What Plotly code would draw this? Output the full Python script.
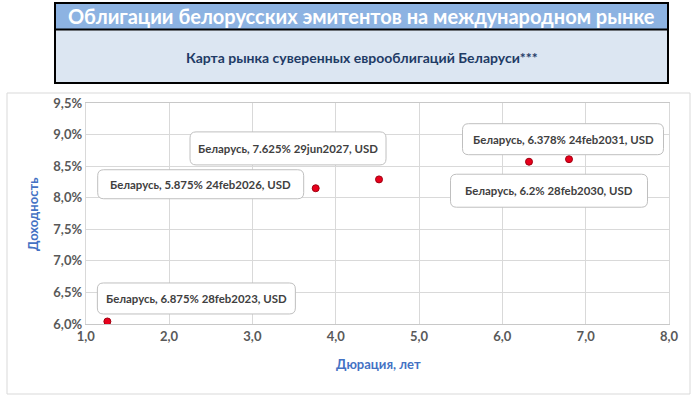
import plotly.graph_objects as go

# ---- data ----
duration = [1.26, 3.76, 4.52, 6.32, 6.80]
yield_pct = [0.0604, 0.0815, 0.0829, 0.0857, 0.0861]
bond_names = [
    "Беларусь, 6.875% 28feb2023, USD",
    "Беларусь, 5.875% 24feb2026, USD",
    "Беларусь, 7.625% 29jun2027, USD",
    "Беларусь, 6.2% 28feb2030, USD",
    "Беларусь, 6.378% 24feb2031, USD",
]
header_title = "Облигации белорусских эмитентов на международном рынке"
chart_title = "Карта рынка суверенных еврооблигаций Беларуси***"
x_title = "Дюрация, лет"
y_title = "Доходность"
x_ticks = [1, 2, 3, 4, 5, 6, 7, 8]
y_ticks = [0.060, 0.065, 0.070, 0.075, 0.080, 0.085, 0.090, 0.095]

# ---- styles / label placement (pixel offsets from point) ----
label_dx = [89, -115, -91, 20, -6]
label_dy = [-23, -4, -31, 29, -20]
label_w = [198, 206, 196, 197, 201]
label_h = [31, 29, 33, 33, 31]

W, H = 696, 398
FONT = "Lato"

def px(x):
    return x / W

def py(y):
    return 1 - y / H

fig = go.Figure()
fig.add_trace(go.Scatter(
    x=duration, y=yield_pct, mode="markers",
    marker=dict(size=7, color="#e8001c", line=dict(color="#a00010", width=1)),
    hoverinfo="skip", showlegend=False,
))

shapes = []
# outer chart frame
shapes.append(dict(type="rect", xref="paper", yref="paper",
                   x0=px(7), x1=px(690), y0=py(394), y1=py(93),
                   line=dict(color="#d9d9d9", width=1), fillcolor="rgba(0,0,0,0)", layer="below"))
# header box
shapes.append(dict(type="rect", xref="paper", yref="paper",
                   x0=px(54), x1=px(669), y0=py(29), y1=py(3),
                   line=dict(width=0), fillcolor="#8db3e2", layer="below"))
shapes.append(dict(type="rect", xref="paper", yref="paper",
                   x0=px(54), x1=px(669), y0=py(84), y1=py(29),
                   line=dict(width=0), fillcolor="#dce6f2", layer="below"))
shapes.append(dict(type="rect", xref="paper", yref="paper",
                   x0=px(55), x1=px(668), y0=py(83), y1=py(3),
                   line=dict(color="#000000", width=2), fillcolor="rgba(0,0,0,0)"))
shapes.append(dict(type="line", xref="paper", yref="paper",
                   x0=px(54), x1=px(669), y0=py(29.5), y1=py(29.5),
                   line=dict(color="#000000", width=2)))

# rounded label boxes
def rrect(cx, cy, w, h, r):
    x0, x1 = cx - w / 2, cx + w / 2
    y0, y1 = cy - h / 2, cy + h / 2
    return (f"M {x0+r},{y0} L {x1-r},{y0} Q {x1},{y0} {x1},{y0+r} "
            f"L {x1},{y1-r} Q {x1},{y1} {x1-r},{y1} L {x0+r},{y1} "
            f"Q {x0},{y1} {x0},{y1-r} L {x0},{y0+r} Q {x0},{y0} {x0+r},{y0} Z")

annotations = []
for xv, yv, name, dx, dy, w, h in zip(duration, yield_pct, bond_names,
                                      label_dx, label_dy, label_w, label_h):
    shapes.append(dict(type="path", xref="x", yref="y",
                       xsizemode="pixel", ysizemode="pixel",
                       xanchor=xv, yanchor=yv,
                       path=rrect(dx, -dy, w, h, 6),
                       line=dict(color="#bfbfbf", width=1),
                       fillcolor="white", layer="above"))
    annotations.append(dict(x=xv, y=yv, xref="x", yref="y", text=name,
                            showarrow=True, ax=dx, ay=dy, axref="pixel", ayref="pixel",
                            arrowcolor="rgba(0,0,0,0)", arrowwidth=0.1,
                            xanchor="center", yanchor="middle",
                            font=dict(family=FONT, size=11.4, color="#404040", weight="bold")))

annotations.append(dict(xref="paper", yref="paper", x=px(361.5), y=py(16),
                        xanchor="center", yanchor="middle",
                        text=header_title, showarrow=False,
                        font=dict(family=FONT, size=20, color="white", weight="bold")))
annotations.append(dict(xref="paper", yref="paper", x=px(361.5), y=py(57),
                        xanchor="center", yanchor="middle",
                        text=chart_title, showarrow=False,
                        font=dict(family=FONT, size=14, color="#1f3b66", weight="bold")))
annotations.append(dict(xref="paper", yref="paper", x=px(378), y=py(364),
                        xanchor="center", yanchor="middle",
                        text=x_title, showarrow=False,
                        font=dict(family=FONT, size=13, color="#4472c4", weight="bold")))
annotations.append(dict(xref="paper", yref="paper", x=px(33), y=py(214),
                        xanchor="center", yanchor="middle",
                        text=y_title, showarrow=False, textangle=-90,
                        font=dict(family=FONT, size=13, color="#4472c4", weight="bold")))

fig.update_layout(
    width=W, height=H,
    margin=dict(l=0, r=0, t=0, b=0, pad=0, autoexpand=False),
    paper_bgcolor="white", plot_bgcolor="white",
    separators=", ",
    shapes=shapes, annotations=annotations,
    xaxis=dict(domain=[px(85.7), px(669)], range=[1, 8], tickvals=x_ticks,
               tickformat=".1f", showgrid=True, gridcolor="#d9d9d9", gridwidth=1,
               showline=True, linecolor="#c8c8c8", mirror=True, zeroline=False,
               ticks="", ticklen=0, automargin=False,
               tickfont=dict(family=FONT, size=13, color="#595959", weight="bold")),
    yaxis=dict(domain=[py(324), py(103)], range=[0.06, 0.095], tickvals=y_ticks,
               tickformat=".1%", showgrid=True, gridcolor="#d9d9d9", gridwidth=1,
               showline=True, linecolor="#d9d9d9", mirror=True, zeroline=False,
               ticks="", ticklen=0, automargin=False,
               tickfont=dict(family=FONT, size=13, color="#595959", weight="bold")),
)
fig.write_html("out.html", config={"displayModeBar": False},
               post_script="document.body.style.margin='0';document.body.style.overflow='hidden';")
